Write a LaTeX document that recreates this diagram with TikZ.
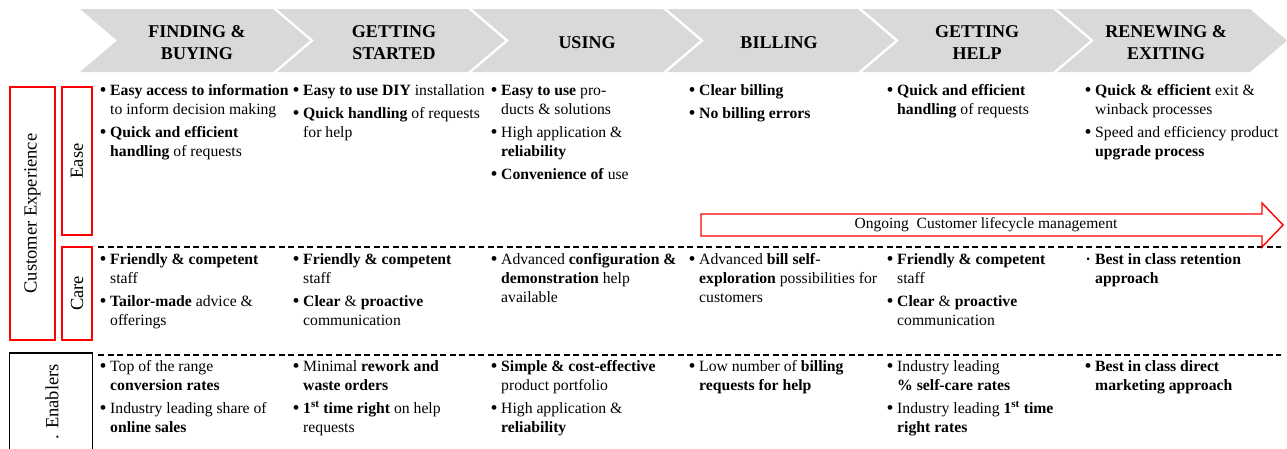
\documentclass[tikz,border=0pt]{standalone}
\usepackage{fontspec}
\setmainfont{Liberation Serif}
\definecolor{chevgray}{HTML}{D9D9D9}
\definecolor{boxred}{HTML}{FF0000}
% bullet list helpers for the table cells
\newcommand\strt{\rule{0pt}{14pt}}
\newcommand\bitem{\makebox[10pt][l]{\hspace{-0.5pt}\raisebox{-1.6pt}{\fontsize{20}{19}\selectfont\textbullet}}}
\newcommand\bdot{\makebox[10pt][l]{\hspace{0.5pt}\textbf{·}}}
\newcommand\bcont{\hspace*{10pt}}
\begin{document}
\begin{tikzpicture}[x=1pt,y=-1pt,
  chev/.style={fill=chevgray,draw=none},
  hdr/.style={font=\fontsize{18}{22}\selectfont\bfseries,align=center,anchor=north,inner sep=0pt},
  cell/.style={font=\fontsize{15.7}{19}\selectfont,align=left,anchor=north west,inner sep=0pt},
  redbox/.style={draw=boxred,line width=2pt,inner sep=0pt,rotate=90,font=\fontsize{18.5}{22}\selectfont},
  sep/.style={dash pattern=on 6pt off 3.5pt,line width=1.1pt},
  lifecycle/.style={draw=boxred,line width=1.4pt,fill=white}]
\useasboundingbox (0,0) rectangle (1287,448);

% process chevrons
\foreach \L/\T [count=\i] in {80/310,277/505,472/700,667/895,862/1090,1057/1287}{
  \fill[chev] (\L,9) -- (\T-37,9) -- (\T,40.5) -- (\T-37,72) -- (\L,72) -- (\L+37,40.5) -- cycle;
}
\node[hdr] (h1) at (197,22) {\rule{0pt}{15pt}FINDING \&\\BUYING};
\node[hdr] (h2) at (394,22) {\rule{0pt}{15pt}GETTING\\STARTED};
\node[hdr] (h3) at (587,33) {\rule{0pt}{15pt}USING};
\node[hdr] (h4) at (779,33) {\rule{0pt}{15pt}BILLING};
\node[hdr] (h5) at (977,22) {\rule{0pt}{15pt}GETTING\\HELP};
\node[hdr] (h6) at (1166,22) {\rule{0pt}{15pt}RENEWING \&\\EXITING};

% row labels
\node[redbox,minimum width=253pt,minimum height=45pt] (cx) at (32.5,213.5) {Customer Experience};
\node[redbox,minimum width=148pt,minimum height=30pt] (ease) at (77,161) {Ease};
\node[redbox,minimum width=93pt,minimum height=30pt] (care) at (77,293.5) {Care};
\draw[line width=1.3pt] (9.5,450) -- (9.5,353) -- (92.5,353) -- (92.5,450);
\node[rotate=90,font=\fontsize{18.5}{22}\selectfont,inner sep=0pt] (enab) at (52,402) {. Enablers};

% row separators
\coordinate (s1a) at (98,247); \coordinate (s1b) at (1281,247);
\coordinate (s2a) at (98,355); \coordinate (s2b) at (1281,355);
\draw[sep] (s1a) -- (s1b);
\draw[sep] (s2a) -- (s2b);

% ongoing lifecycle arrow
\draw[lifecycle] (701,214) -- (1262,214) -- (1262,203) -- (1283,225) -- (1262,247) -- (1262,236) -- (701,236) -- cycle;
\node[font=\fontsize{15.5}{19}\selectfont,inner sep=0pt] (life) at (986,225) {Ongoing\hspace{0.5em}Customer lifecycle management};

% Ease row
\node[cell] (e1) at (100,81) {\strt\bitem\textbf{Easy access to information}\\
  \bcont to inform decision making\\[4pt]
  \bitem\textbf{Quick and efficient}\\
  \bcont\textbf{handling} of requests};
\node[cell] (e2) at (293,81) {\strt\bitem\textbf{Easy to use DIY} installation\\[4pt]
  \bitem\textbf{Quick handling} of requests\\
  \bcont for help};
\node[cell] (e3) at (491,81) {\strt\bitem\textbf{Easy to use} pro-\\
  \bcont ducts \& solutions\\[4pt]
  \bitem High application \&\\
  \bcont\textbf{reliability}\\[4pt]
  \bitem\textbf{Convenience of} use};
\node[cell] (e4) at (689,81) {\strt\bitem\textbf{Clear billing}\\[4pt]
  \bitem\textbf{No billing errors}};
\node[cell] (e5) at (887,81) {\strt\bitem\textbf{Quick and efficient}\\
  \bcont\textbf{handling} of requests};
\node[cell] (e6) at (1085,81) {\strt\bitem\textbf{Quick \& efficient} exit \&\\
  \bcont winback processes\\[4pt]
  \bitem Speed and efficiency product\\
  \bcont\textbf{upgrade process}};

% Care row
\node[cell] (c1) at (100,250) {\strt\bitem\textbf{Friendly \& competent}\\
  \bcont staff\\[4pt]
  \bitem\textbf{Tailor-made} advice \&\\
  \bcont offerings};
\node[cell] (c2) at (293,250) {\strt\bitem\textbf{Friendly \& competent}\\
  \bcont staff\\[4pt]
  \bitem\textbf{Clear} \& \textbf{proactive}\\
  \bcont communication};
\node[cell] (c3) at (491,250) {\strt\bitem Advanced \textbf{configuration \&}\\
  \bcont\textbf{demonstration} help\\
  \bcont available};
\node[cell] (c4) at (689,250) {\strt\bitem Advanced \textbf{bill self}-\\
  \bcont\textbf{exploration} possibilities for\\
  \bcont customers};
\node[cell] (c5) at (887,250) {\strt\bitem\textbf{Friendly \& competent}\\
  \bcont staff\\[4pt]
  \bitem\textbf{Clear} \& \textbf{proactive}\\
  \bcont communication};
\node[cell] (c6) at (1085,250) {\strt\bdot\textbf{Best in class retention}\\
  \bcont\textbf{approach}};

% Enablers row
\node[cell] (n1) at (100,357) {\strt\bitem Top of the range\\
  \bcont\textbf{conversion rates}\\[4pt]
  \bitem Industry leading share of\\
  \bcont\textbf{online sales}};
\node[cell] (n2) at (293,357) {\strt\bitem Minimal \textbf{rework and}\\
  \bcont\textbf{waste orders}\\[4pt]
  \bitem\textbf{1\textsuperscript{st} time right} on help\\
  \bcont requests};
\node[cell] (n3) at (491,357) {\strt\bitem\textbf{Simple \& cost-effective}\\
  \bcont product portfolio\\[4pt]
  \bitem High application \&\\
  \bcont\textbf{reliability}};
\node[cell] (n4) at (689,357) {\strt\bitem Low number of \textbf{billing}\\
  \bcont\textbf{requests for help}};
\node[cell] (n5) at (887,357) {\strt\bitem Industry leading\\
  \bcont\textbf{\% self-care rates}\\[4pt]
  \bitem Industry leading \textbf{1\textsuperscript{st} time}\\
  \bcont\textbf{right rates}};
\node[cell] (n6) at (1085,357) {\strt\bitem\textbf{Best in class direct}\\
  \bcont\textbf{marketing approach}};
\end{tikzpicture}
\end{document}
